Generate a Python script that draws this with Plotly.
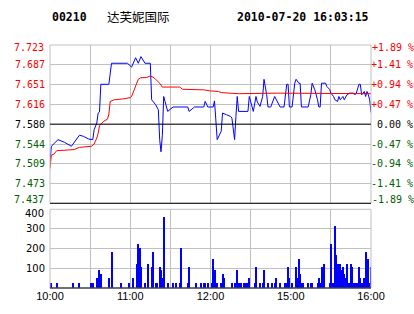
import plotly.graph_objects as go

stock_code = "00210"
stock_name = "达芙妮国际"
stamp = "2010-07-20 16:03:15"
prev_close = 7.580

price_ticks = [7.437, 7.473, 7.509, 7.544, 7.580, 7.616, 7.651, 7.687, 7.723]
pct_ticks = ["-1.89 %", "-1.41 %", "-0.94 %", "-0.47 %", "\u00a00.00 %", "+0.47 %", "+0.94 %", "+1.41 %", "+1.89 %"]
vol_ticks = [100, 200, 300, 400]
time_tick_minutes = [0, 30, 60, 90, 120, 150, 180, 210, 240]
time_tick_labels = ["10:00", "", "11:00", "", "12:00", "", "15:00", "", "16:00"]

# minute index (0 = 10:00, 150 = 12:30/14:30, 240 = 16:00) and last price
price_min = [0, 1, 6, 11, 16, 22, 25, 29, 32, 33, 35, 36, 37, 38, 44, 45, 46, 58, 61, 64,
             66, 68, 70, 71, 75, 76, 79, 81, 82, 83, 84, 85, 86, 87, 88, 92, 103, 104, 108, 115,
             116, 118, 122, 123, 124, 125, 128, 129, 132, 135, 136, 138, 139, 140, 141, 148, 149, 150, 152, 154,
             155, 157, 158, 159, 160, 161, 162, 163, 165, 168, 170, 172, 175, 177, 178, 179, 181, 182, 183, 184,
             186, 187, 188, 193, 195, 196, 198, 200, 201, 202, 203, 206, 207, 209, 210, 212, 213, 215, 216, 217,
             219, 220, 222, 224, 227, 228, 229, 231, 232, 233, 235, 236, 237, 238, 239, 240]
price_val = [7.510, 7.540, 7.552, 7.547, 7.540, 7.560, 7.558, 7.553, 7.552, 7.570, 7.582, 7.600, 7.602, 7.652, 7.652, 7.670, 7.690, 7.690, 7.683, 7.700,
             7.690, 7.702, 7.695, 7.690, 7.690, 7.624, 7.615, 7.606, 7.552, 7.530, 7.560, 7.630, 7.621, 7.609, 7.603, 7.611, 7.611, 7.603, 7.611, 7.611,
             7.621, 7.611, 7.611, 7.622, 7.576, 7.552, 7.567, 7.600, 7.597, 7.594, 7.591, 7.552, 7.594, 7.630, 7.603, 7.603, 7.630, 7.620, 7.603, 7.630,
             7.620, 7.612, 7.620, 7.630, 7.661, 7.650, 7.633, 7.611, 7.611, 7.630, 7.620, 7.611, 7.611, 7.652, 7.652, 7.611, 7.611, 7.636, 7.654, 7.661,
             7.654, 7.654, 7.611, 7.611, 7.633, 7.654, 7.642, 7.624, 7.611, 7.611, 7.654, 7.654, 7.648, 7.643, 7.636, 7.630, 7.624, 7.621, 7.630, 7.624,
             7.630, 7.624, 7.633, 7.636, 7.636, 7.633, 7.636, 7.652, 7.652, 7.633, 7.639, 7.630, 7.639, 7.633, 7.624, 7.601]

# average price
avg_min = [0, 1, 3, 5, 18, 22, 31, 33, 35, 36, 37, 40, 43, 44, 45, 48, 56, 60, 61, 63,
           66, 68, 72, 75, 77, 79, 82, 84, 97, 99, 115, 120, 126, 128, 141, 170, 200, 240]
avg_val = [7.500, 7.524, 7.526, 7.532, 7.534, 7.538, 7.540, 7.544, 7.555, 7.563, 7.577, 7.585, 7.589, 7.598, 7.621, 7.624, 7.626, 7.628, 7.630, 7.642,
           7.661, 7.664, 7.664, 7.667, 7.665, 7.661, 7.654, 7.647, 7.647, 7.643, 7.642, 7.640, 7.639, 7.637, 7.635, 7.636, 7.636, 7.635]

# volume per minute
vol_min = [0, 1, 5, 17, 22, 31, 32, 35, 36, 37, 38, 44, 46, 53, 59, 62, 65, 66, 67, 68,
           71, 73, 76, 77, 79, 80, 82, 83, 84, 85, 88, 92, 94, 97, 98, 103, 104, 109, 113, 115,
           116, 118, 121, 122, 123, 125, 128, 129, 130, 136, 138, 139, 140, 141, 142, 143, 145, 146, 147, 148,
           149, 153, 154, 157, 159, 160, 163, 166, 168, 169, 172, 176, 177, 178, 179, 181, 184, 185, 186, 187,
           188, 189, 193, 195, 196, 200, 201, 202, 203, 204, 205, 209, 210, 211, 212, 213, 214, 215, 217, 218,
           219, 220, 221, 222, 223, 224, 225, 226, 227, 228, 229, 230, 231, 232, 233, 234, 235, 236, 237, 238,
           239, 240]
vol_val = [25, 25, 25, 25, 25, 25, 25, 47, 47, 88, 68, 47, 184, 25, 25, 47, 123, 220, 200, 103,
           25, 123, 103, 184, 25, 25, 103, 88, 47, 357, 25, 25, 25, 25, 200, 25, 103, 25, 25, 25,
           25, 25, 25, 144, 88, 25, 25, 68, 47, 25, 25, 25, 88, 25, 25, 25, 25, 25, 25, 25,
           47, 25, 103, 25, 25, 88, 25, 25, 25, 47, 25, 25, 25, 103, 47, 25, 103, 47, 144, 68,
           25, 25, 25, 25, 25, 25, 47, 25, 103, 25, 123, 25, 220, 25, 25, 316, 164, 123, 123, 88,
           103, 68, 47, 123, 25, 25, 123, 103, 25, 25, 25, 25, 103, 47, 25, 25, 47, 184, 25, 144,
           25, 103]

RED, GREEN, GRID = "#ff0000", "#006000", "#c0c0c0"
LABEL_FONT = dict(family="DejaVu Sans Mono", size=10)


def col(v):
    return RED if v > prev_close else (GREEN if v < prev_close else "#000000")


inner_ticks = price_ticks[1:-1]
left_text = [f'<span style="color:{col(v)}">{v:.3f}</span>' for v in inner_ticks]
right_text = [f'<span style="color:{col(v)}">{t}</span>' for v, t in zip(price_ticks, pct_ticks)][1:-1]

fig = go.Figure()
fig.add_trace(go.Scatter(x=price_min, y=price_val, mode="lines", line=dict(color="#0000ff", width=1),
                         xaxis="x", yaxis="y", showlegend=False))
fig.add_trace(go.Scatter(x=avg_min, y=avg_val, mode="lines", line=dict(color=RED, width=1),
                         xaxis="x", yaxis="y", showlegend=False))
fig.add_trace(go.Scatter(x=[0], y=[prev_close], mode="markers", marker=dict(opacity=0),
                         xaxis="x", yaxis="y3", showlegend=False, hoverinfo="skip"))
fig.add_trace(go.Bar(x=vol_min, y=vol_val, width=0.75, marker=dict(color="#0000ff", line=dict(width=0)),
                     xaxis="x2", yaxis="y2", showlegend=False))

pdom = [0.3486, 1.0]
vdom = [0.0, 0.3239]
prange = [price_ticks[0], price_ticks[-1]]
fig.update_layout(
    width=414, height=314,
    margin=dict(l=50, r=43, t=45, b=26, pad=0),
    paper_bgcolor="white", plot_bgcolor="white",
    font=dict(family="DejaVu Sans Mono", size=10, color="#000000"),
    xaxis=dict(domain=[0, 1], range=[0, 240], anchor="y", tickvals=time_tick_minutes, automargin=False,
               showticklabels=False, showgrid=True, gridcolor=GRID, gridwidth=1, zeroline=False, ticks=""),
    yaxis=dict(domain=pdom, range=prange, anchor="x", tickvals=price_ticks, automargin=False,
               ticktext=[""] + left_text + [""], showgrid=True, gridcolor=GRID, zeroline=False, ticks="",
               ticklabelstandoff=4, tickfont=LABEL_FONT),
    yaxis3=dict(overlaying="y", side="right", anchor="x", range=prange, automargin=False,
                tickvals=inner_ticks, ticktext=right_text, showgrid=False, zeroline=False, ticks="",
                ticklabelstandoff=-1, tickfont=LABEL_FONT),
    xaxis2=dict(domain=[0, 1], range=[0, 240], anchor="y2", tickvals=time_tick_minutes, automargin=False,
                ticktext=time_tick_labels, showgrid=True, gridcolor=GRID, zeroline=False, ticks="",
                tickfont=dict(family="Liberation Sans", size=11)),
    yaxis2=dict(domain=vdom, range=[0, 400], anchor="x2", tickvals=vol_ticks, automargin=False,
                ticktext=[str(v) for v in vol_ticks[:-1]] + [""],
                showgrid=True, gridcolor=GRID, zeroline=False, ticks="", ticklabelstandoff=4,
                tickfont=dict(family="DejaVu Sans", size=10)),
    bargap=0,
)

shapes = [
    dict(type="rect", xref="x domain", yref="y domain", x0=0, x1=1, y0=0, y1=1, line=dict(color=GRID, width=1)),
    dict(type="rect", xref="x2 domain", yref="y2 domain", x0=0, x1=1, y0=0, y1=1, line=dict(color=GRID, width=1)),
    dict(type="line", xref="x domain", yref="y", x0=0, x1=1, y0=prev_close, y1=prev_close, line=dict(color="black", width=1)),
    dict(type="line", xref="x domain", yref="y domain", x0=0, x1=1, y0=0, y1=0, line=dict(color="black", width=1)),
    dict(type="line", xref="x2 domain", yref="y2 domain", x0=0, x1=1, y0=0, y1=0, line=dict(color="black", width=1)),
]
fig.update_layout(shapes=shapes)

# edge labels, nudged inward like the reference (positive yshift = up)
edge = [(price_ticks[-1], pct_ticks[-1], -2), (price_ticks[0], pct_ticks[0], 4)]
for v, t, dy in edge:
    fig.add_annotation(text=f"{v:.3f}", xref="paper", yref="y", x=0, y=v, xanchor="right", yanchor="middle",
                       xshift=-5, yshift=dy, showarrow=False, font=dict(LABEL_FONT, color=col(v)), borderpad=0)
    fig.add_annotation(text=t, xref="paper", yref="y", x=1, y=v, xanchor="left", yanchor="middle",
                       xshift=0, yshift=dy, showarrow=False, font=dict(LABEL_FONT, color=col(v)), borderpad=0)
fig.add_annotation(text=str(vol_ticks[-1]), xref="paper", yref="y2", x=0, y=vol_ticks[-1], xanchor="right",
                   yanchor="middle", xshift=-5, yshift=-4, showarrow=False,
                   font=dict(family="DejaVu Sans", size=10, color="black"), borderpad=0)

fig.add_annotation(text=f"<b>{stock_code}</b>", xref="paper", yref="paper", x=0, y=1.1165,
                   xanchor="left", yanchor="middle", showarrow=False,
                   font=dict(family="DejaVu Sans Mono", size=11.5, color="black"))
fig.add_annotation(text=stock_name, xref="paper", yref="paper", x=(105 - 50) / 321, y=1.1165,
                   xanchor="left", yanchor="middle", showarrow=False,
                   font=dict(family="Noto Sans CJK SC", size=12.5, color="black"))
fig.add_annotation(text=f"<b>{stamp}</b>", xref="paper", yref="paper", x=1.0, y=1.1165,
                   xanchor="right", yanchor="middle", showarrow=False,
                   font=dict(family="DejaVu Sans Mono", size=11.5, color="black"))

fig.write_html("out.html")
